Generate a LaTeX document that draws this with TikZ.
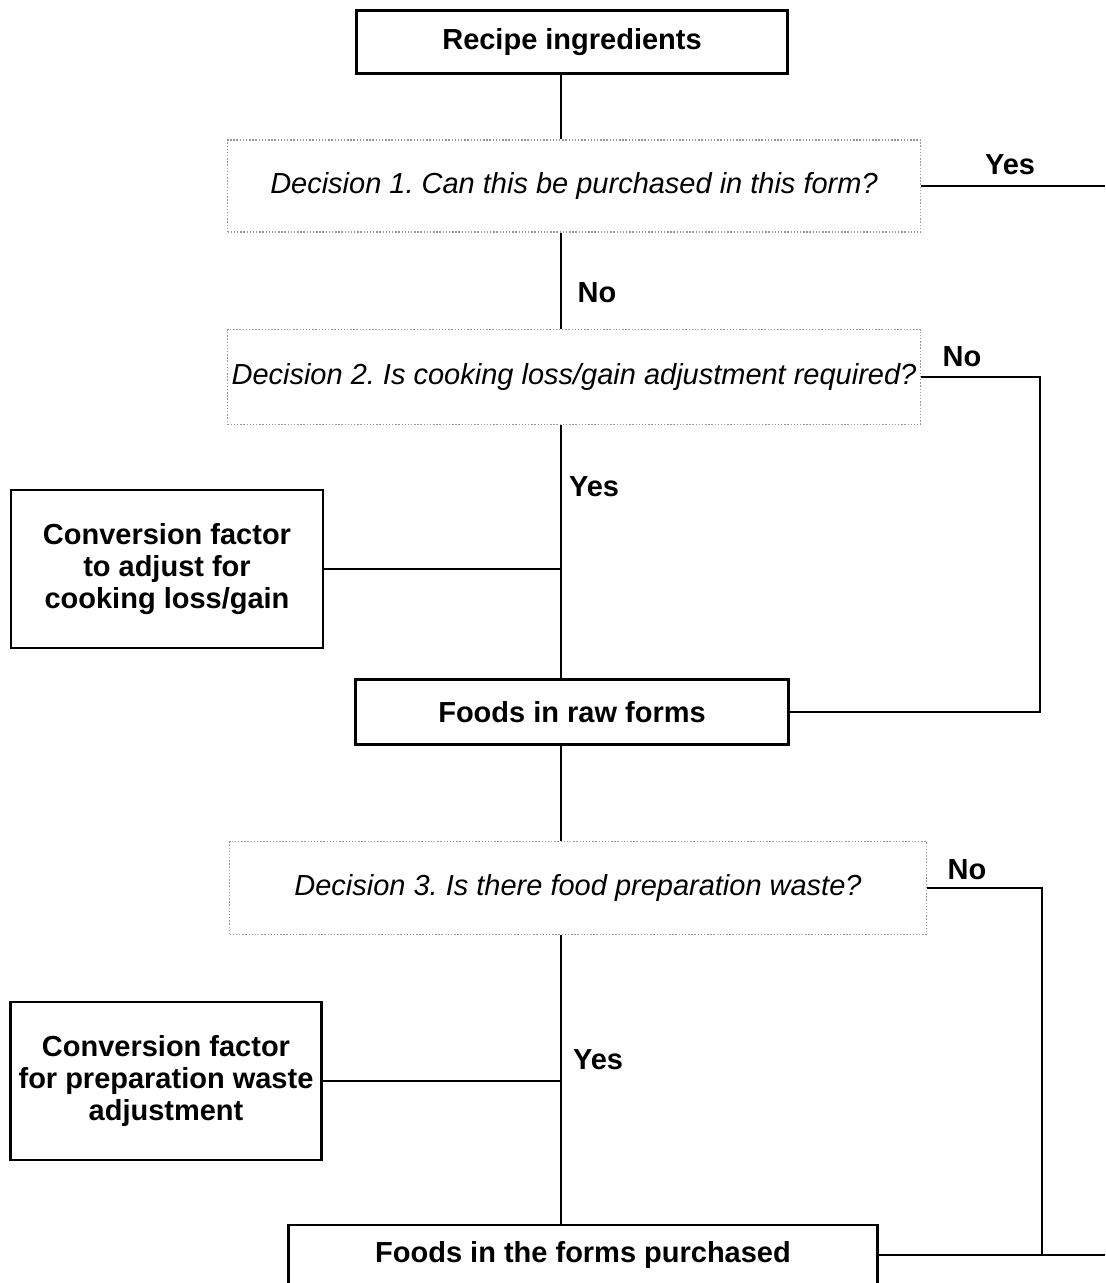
\documentclass[tikz,border=0pt]{standalone}
\usepackage{fontspec}
\setmainfont{Liberation Sans}
\usepackage{tikz}
\usetikzlibrary{positioning,calc}
\frenchspacing

\begin{document}
\begin{tikzpicture}[-, auto, x=0.02cm, y=-0.02cm]
        \tikzstyle{every node}=[font=\fontsize{16.5}{18}\selectfont]
        \tikzstyle{box}=[draw=black, line width=1.3pt, fill=white, inner sep=2pt, align=center, font=\fontsize{16.5}{18}\selectfont\bfseries]
        \tikzstyle{decision}=[draw=gray!80, densely dotted, line width=0.8pt, inner sep=2pt, font=\fontsize{16.5}{18}\selectfont\itshape]
        \tikzstyle{answer}=[font=\fontsize{16.5}{18}\selectfont\bfseries]
        \tikzstyle{link}=[line width=0.8pt]

        \useasboundingbox (0,0) rectangle (1105,1283);

        \node[box, minimum width=8.62cm, minimum height=1.26cm]         (recipe) at (572,42)     {Recipe ingredients};
        \node[decision, minimum width=13.86cm, minimum height=1.84cm]   (dec1)   at (574,186)    {Decision 1. Can this be purchased in this form?};
        \node[decision, minimum width=13.86cm, minimum height=1.90cm]   (dec2)   at (574,377)    {Decision 2. Is cooking loss/gain adjustment required?};
        \node[box, minimum width=6.24cm, minimum height=3.16cm]         (conv1)  at (167,569)    {Conversion factor\\to adjust for\\cooking loss/gain};
        \node[box, minimum width=8.66cm, minimum height=1.30cm]         (raw)    at (572,712)    {Foods in raw forms};
        \node[decision, minimum width=13.94cm, minimum height=1.86cm]   (dec3)   at (578,888)    {Decision 3. Is there food preparation waste?};
        \node[box, minimum width=6.22cm, minimum height=3.16cm]         (conv2)  at (166,1081)   {Conversion factor\\for preparation waste\\adjustment};
        \node[box, minimum width=11.78cm, minimum height=1.20cm]        (purch)  at (583,1255)   {Foods in the forms purchased};

        \coordinate (trunk) at (561,0);
        \coordinate (out1) at (1105,186);
        \coordinate (out3) at (1105,1255);

        \node[answer] (yes1) at (1010,165)  {Yes};
        \node[answer] (no1)  at (597,293)   {No};
        \node[answer] (no2)  at (962,357)   {No};
        \node[answer] (yes2) at (594,487)   {Yes};
        \node[answer] (no3)  at (967,870)   {No};
        \node[answer] (yes3) at (598,1060)  {Yes};

        % main column
        \draw[link] (recipe.south -| trunk) -- (trunk |- dec1.north);
        \draw[link] (dec1.south -| trunk) -- (trunk |- dec2.north);
        \draw[link] (dec2.south -| trunk) -- (trunk |- raw.north);
        \draw[link] (raw.south -| trunk) -- (trunk |- dec3.north);
        \draw[link] (dec3.south -| trunk) -- (trunk |- purch.north);

        % side branches
        \draw[link] (dec1.east) -- (out1);
        \draw[link] (dec2.east) -- ++(119,0) |- (raw.east);
        \draw[link] (conv1.east) -- (conv1.east -| trunk);
        \draw[link] (dec3.east) -- ++(115,0) |- (purch.east);
        \draw[link] (purch.east) -- (out3);
        \draw[link] (conv2.east) -- (conv2.east -| trunk);
\end{tikzpicture}
\end{document}
